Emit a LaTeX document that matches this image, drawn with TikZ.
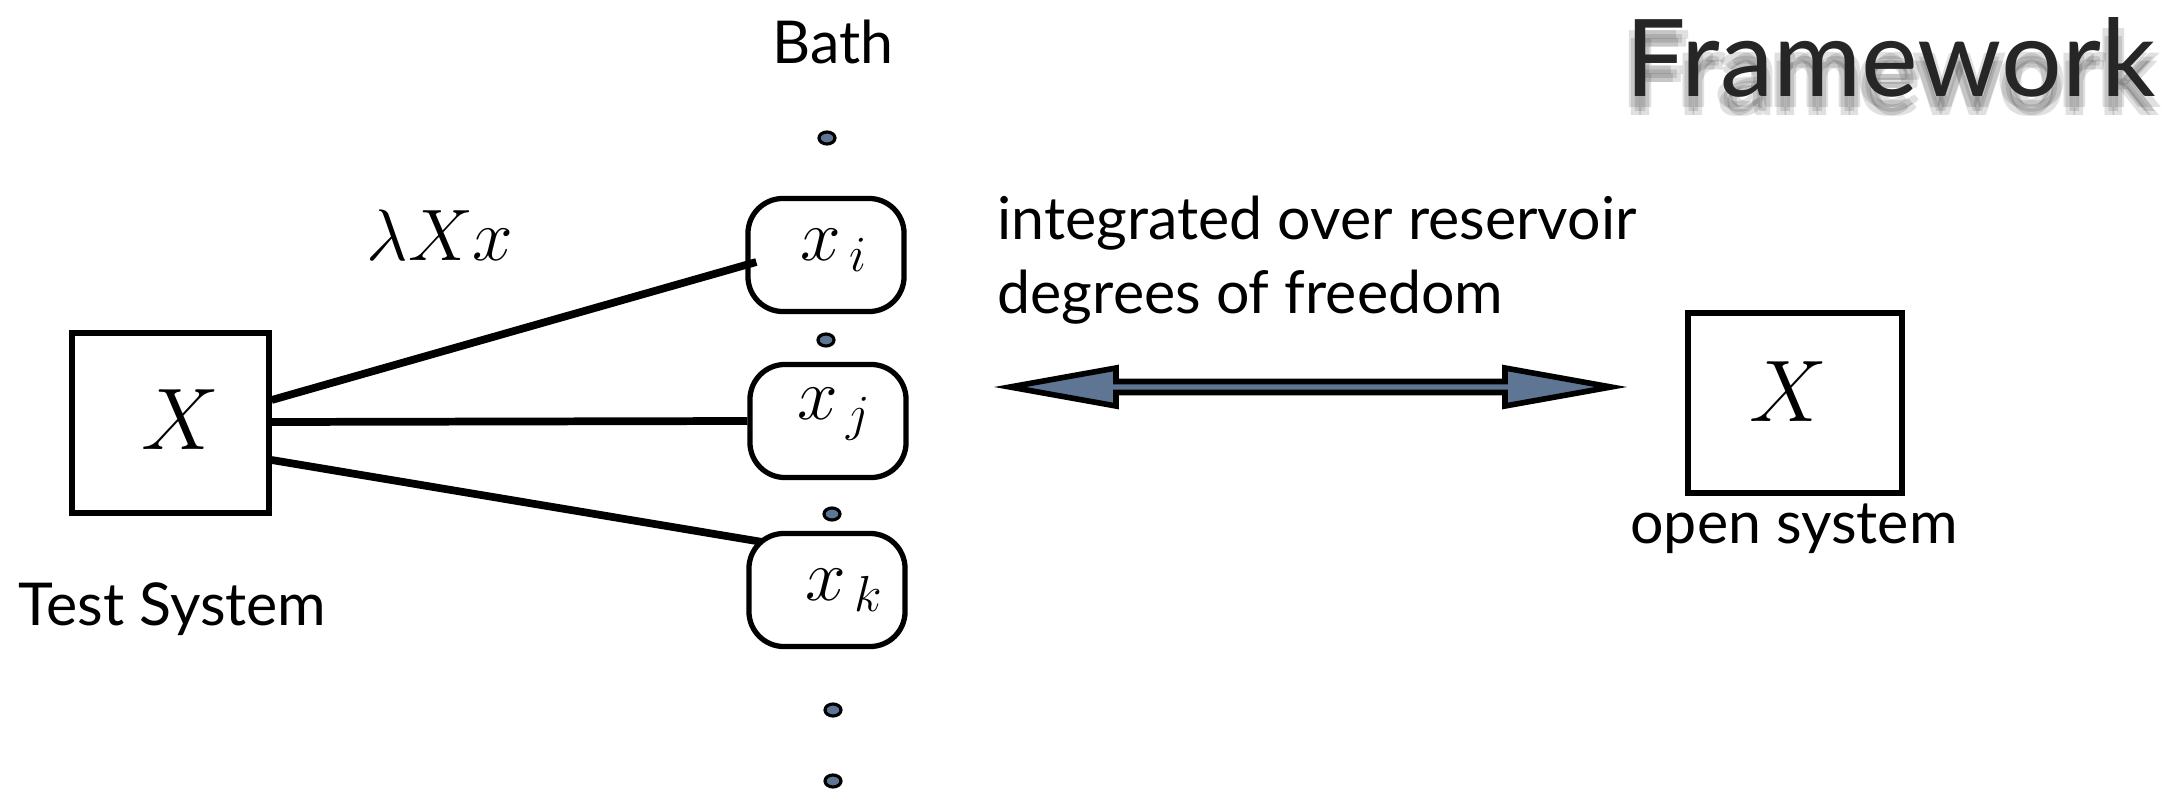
\documentclass[tikz,border=0pt]{standalone}
\usepackage{fontspec}
\setmainfont{Lato}
\usetikzlibrary{calc,shapes.geometric}
\definecolor{slate}{HTML}{5E7594}
\begin{document}
\begin{tikzpicture}[x=0.01cm,y=-0.01cm,
  sysbox/.style={draw, line width=1.5pt, minimum width=1.97cm, minimum height=1.80cm, inner sep=0pt},
  bathbox/.style={draw, line width=1.5pt, rounded corners=0.35cm, minimum width=1.56cm, minimum height=1.13cm, inner sep=0pt},
  bathdot/.style={draw, line width=0.9pt, fill=slate, ellipse, minimum width=0.16cm, minimum height=0.12cm, inner sep=0pt},
  link/.style={line width=2.2pt},
  lbl/.style={inner sep=0pt, font=\fontsize{16.8pt}{20pt}\selectfont},
  mathbig/.style={inner sep=0pt, font=\fontsize{33pt}{36pt}\selectfont},
  mathmid/.style={inner sep=0pt, font=\fontsize{21pt}{24pt}\selectfont},
  bigarrow/.style={draw, line width=1.6pt, fill=slate, line join=miter},
  shadowtxt/.style={anchor=base west, inner sep=0pt, text=black, opacity=0.12,
        font=\fontsize{30.5pt}{34pt}\selectfont}
]
\useasboundingbox (0,0) rectangle (2184,797);

% title with soft shadow
\foreach \dx/\dy [count=\i] in {-6/10,6/10,0/14,-4/18,4/18}
  \node[shadowtxt, name=fws\i] at ($(1625,97)+(\dx,\dy)$) {Framework};
\node[name=title, anchor=base west, inner sep=0pt, text=black!85,
      font=\fontsize{30.5pt}{34pt}\selectfont] at (1625,97) {Framework};

% test system
\node[sysbox] (tb) at (170.5,423) {};
\node[mathbig] (tbx) at (180,420) {$X$};
\node[lbl, anchor=base west] (tbl) at (18,625) {Test System};

% bath
\node[lbl, anchor=base west] (bathl) at (772,63) {Bath};
\node[bathbox] (xi) at (826,255) {};
\node[bathbox] (xj) at (828,421) {};
\node[bathbox] (xk) at (827,590) {};
\node[mathmid] (xit) at (834,250) {$x_{\,i}$};
\node[mathmid] (xjt) at (835,414) {$x_{\,j}$};
\node[mathmid] (xkt) at (845,590) {$x_{\,k}$};

\node[bathdot] (d1) at (827,138) {};
\node[bathdot] (d2) at (826,340) {};
\node[bathdot] (d3) at (832,514) {};
\node[bathdot] (d4) at (833,710) {};
\node[bathdot] (d5) at (833,781) {};

% couplings
\node[mathmid] (lam) at (440,235) {$\lambda X x$};
\draw[link] ($(tb.east)+(0,-23)$) -- ($(xi.west)+(11,7)$);
\draw[link] ($(tb.east)+(0,-1)$) -- (xj.west);
\draw[link] ($(tb.east)+(0,37)$) -- ($(xk.north west)+(15,11)$);

% integration text
\node[lbl, anchor=base west] (int1) at (997,239) {integrated over reservoir};
\node[lbl, anchor=base west] (int2) at (997,313) {degrees of freedom};

% double arrow
\coordinate (aL) at (1010,387);
\coordinate (aR) at (1611,387);
\draw[bigarrow] (aL) -- ($(aL)+(106,-19)$) -- ($(aL)+(106,-5.5)$) -- ($(aR)+(-106,-5.5)$)
  -- ($(aR)+(-106,-19)$) -- (aR) -- ($(aR)+(-106,19)$) -- ($(aR)+(-106,5.5)$)
  -- ($(aL)+(106,5.5)$) -- ($(aL)+(106,19)$) -- cycle;

% open system
\node[sysbox, minimum width=2.14cm] (os) at (1795,403) {};
\node[mathbig] (osx) at (1788,392) {$X$};
\node[lbl, anchor=base] (osl) at (1794,543) {open system};
\end{tikzpicture}
\end{document}
